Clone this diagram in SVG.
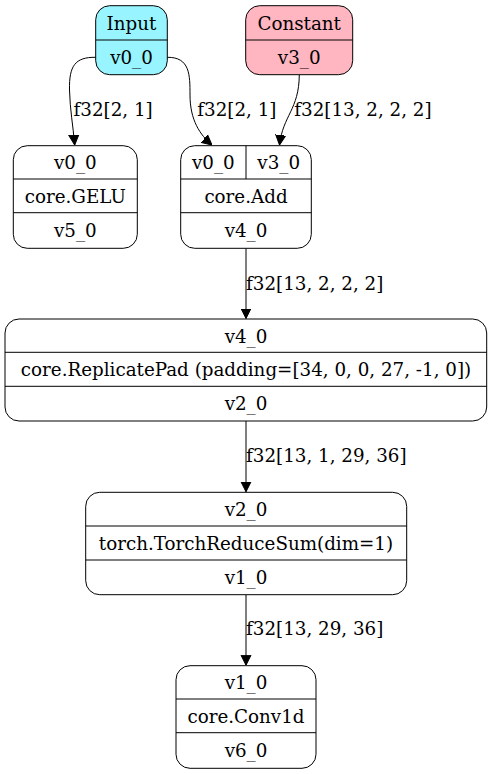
<svg xmlns="http://www.w3.org/2000/svg" width="492" height="774" viewBox="0 0 492 774">
<defs>
<style>
.n rect{fill:#fff;stroke:#000;stroke-width:1}
.n line{stroke:#000;stroke-width:1}
text{font-family:"DejaVu Serif","Liberation Serif",serif;font-size:18.3px;fill:#000;text-anchor:middle}
.e path{fill:none;stroke:#000;stroke-width:1}
.lbl{text-anchor:start}
</style>
<marker id="ah" markerWidth="10" markerHeight="13" refX="10" refY="6.5" orient="auto" markerUnits="userSpaceOnUse">
<path d="M0,1.5 L10,6.5 L0,11.5 Z" fill="#000" stroke="#000"/>
</marker>
</defs>
<rect width="492" height="774" fill="#fff"/>
<g class="e" id="edges">
<path d="M95.7,57.3 C75,57 69,66 69.5,90 C70,110 73,125 74.7,145" marker-end="url(#ah)"/>
<path d="M167.3,57.3 C190,57 190,75 190,95 C190,120 200,135 212,145" marker-end="url(#ah)"/>
<path d="M299.3,74.7 C299,110 283,115 279.5,145" marker-end="url(#ah)"/>
<path d="M246,248.3 L246,318.5" marker-end="url(#ah)"/>
<path d="M246,421 L246,491.8" marker-end="url(#ah)"/>
<path d="M246,594.7 L246,665.2" marker-end="url(#ah)"/>
<text class="lbl" x="73.5" y="116">f32[2, 1]</text>
<text class="lbl" x="197.3" y="116">f32[2, 1]</text>
<text class="lbl" x="294.3" y="116">f32[13, 2, 2, 2]</text>
<text class="lbl" x="246" y="290">f32[13, 2, 2, 2]</text>
<text class="lbl" x="246" y="462">f32[13, 1, 29, 36]</text>
<text class="lbl" x="246" y="635">f32[13, 29, 36]</text>
</g>
<g class="n" id="input">
<rect x="95.7" y="5.7" width="71.6" height="69" rx="14" style="fill:#98f5ff"/>
<line x1="95.7" y1="40" x2="167.3" y2="40"/>
<text x="131.5" y="29.5">Input</text>
<text x="131.5" y="64">v0_0</text>
</g>
<g class="n" id="constant">
<rect x="245.7" y="5.7" width="107" height="69" rx="14" style="fill:#ffb6c1"/>
<line x1="245.7" y1="40" x2="352.7" y2="40"/>
<text x="299.2" y="29.5">Constant</text>
<text x="299.2" y="64">v3_0</text>
</g>
<g class="n" id="gelu">
<rect x="13.3" y="145.7" width="124" height="102.6" rx="14"/>
<line x1="13.3" y1="179" x2="137.3" y2="179"/>
<line x1="13.3" y1="212.7" x2="137.3" y2="212.7"/>
<text x="75.3" y="169.3">v0_0</text>
<text x="75.3" y="202.8">core.GELU</text>
<text x="75.3" y="236.5">v5_0</text>
</g>
<g class="n" id="add">
<rect x="180.7" y="145.7" width="130.6" height="102.6" rx="14"/>
<line x1="180.7" y1="179" x2="311.3" y2="179"/>
<line x1="180.7" y1="212.7" x2="311.3" y2="212.7"/>
<line x1="246" y1="145.7" x2="246" y2="179"/>
<text x="213.3" y="169.3">v0_0</text>
<text x="278.7" y="169.3">v3_0</text>
<text x="246" y="202.8">core.Add</text>
<text x="246" y="236.5">v4_0</text>
</g>
<g class="n" id="replicatepad">
<rect x="5" y="319" width="481.7" height="102" rx="14"/>
<line x1="5" y1="352.3" x2="486.7" y2="352.3"/>
<line x1="5" y1="386.3" x2="486.7" y2="386.3"/>
<text x="246" y="342.5">v4_0</text>
<text x="246" y="376">core.ReplicatePad (padding=[34, 0, 0, 27, -1, 0])</text>
<text x="246" y="410">v2_0</text>
</g>
<g class="n" id="reducesum">
<rect x="85.7" y="492.3" width="321" height="102.4" rx="14"/>
<line x1="85.7" y1="526" x2="406.7" y2="526"/>
<line x1="85.7" y1="560" x2="406.7" y2="560"/>
<text x="246" y="516">v2_0</text>
<text x="246" y="549.5">torch.TorchReduceSum(dim=1)</text>
<text x="246" y="583.5">v1_0</text>
</g>
<g class="n" id="conv1d">
<rect x="176" y="665.7" width="140" height="102.6" rx="14"/>
<line x1="176" y1="699" x2="316" y2="699"/>
<line x1="176" y1="732.7" x2="316" y2="732.7"/>
<text x="246" y="689.2">v1_0</text>
<text x="246" y="722.7">core.Conv1d</text>
<text x="246" y="756.5">v6_0</text>
</g>
</svg>
